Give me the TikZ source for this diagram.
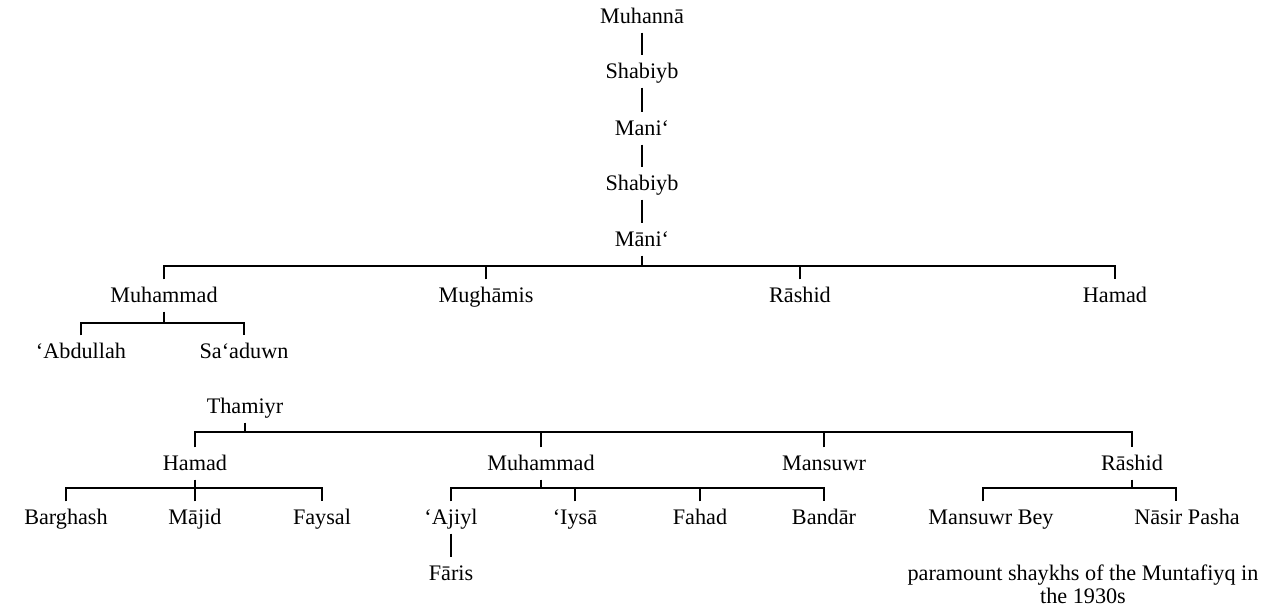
\documentclass[tikz,border=0pt]{standalone}
\usepackage{fontspec}
\setmainfont{Liberation Serif}
\begin{document}
\begin{tikzpicture}[x=1pt,y=-1pt,
  person/.style={font=\fontsize{22.2}{23}\selectfont, anchor=base, text height=15pt, text depth=2pt, inner xsep=2pt, inner ysep=7pt},
  every path/.style={line width=1.1pt, black}]
\useasboundingbox (0,0) rectangle (1284,614);
% chain
\node[person] (muhanna) at (642,23) {Muhannā};
\node[person] (shabiyb1) at (642,78) {Shabiyb};
\node[person] (mani1) at (642,135) {Mani‘};
\node[person] (shabiyb2) at (642,190) {Shabiyb};
\node[person] (mani2) at (642,246) {Māni‘};
\draw (muhanna.south) -- (shabiyb1.north);
\draw (shabiyb1.south) -- (mani1.north);
\draw (mani1.south) -- (shabiyb2.north);
\draw (shabiyb2.south) -- (mani2.north);
% row 2
\coordinate (bar1) at (0,266);
\node[person] (muh1) at (164,302) {Muhammad};
\node[person] (mugh) at (486,302) {Mughāmis};
\node[person] (rash1) at (800,302) {Rāshid};
\node[person] (ham1) at (1115,302) {Hamad};
\draw (mani2.south) -- (mani2.south |- bar1);
\draw (muh1.north) -- (muh1.north |- bar1) -- (ham1.north |- bar1) -- (ham1.north);
\draw (mugh.north) -- (mugh.north |- bar1);
\draw (rash1.north) -- (rash1.north |- bar1);
% Muhammad's sons
\coordinate (bar2) at (0,323);
\node[person] (abd) at (81,358) {‘Abdullah};
\node[person] (sad) at (244,358) {Sa‘aduwn};
\draw (muh1.south) -- (muh1.south |- bar2);
\draw (abd.north) -- (abd.north |- bar2) -- (sad.north |- bar2) -- (sad.north);
% Thamiyr
\node[person] (tham) at (245,413) {Thamiyr};
\coordinate (bar3) at (0,432);
\node[person] (ham2) at (195,470) {Hamad};
\node[person] (muh2) at (541,470) {Muhammad};
\node[person] (mans1) at (824,470) {Mansuwr};
\node[person] (rash2) at (1132,470) {Rāshid};
\draw (tham.south) -- (tham.south |- bar3);
\draw (ham2.north) -- (ham2.north |- bar3) -- (rash2.north |- bar3) -- (rash2.north);
\draw (muh2.north) -- (muh2.north |- bar3);
\draw (mans1.north) -- (mans1.north |- bar3);
% Hamad's sons
\coordinate (bar4) at (0,488);
\node[person] (barg) at (66,524) {Barghash};
\node[person] (majid) at (195,524) {Mājid};
\node[person] (faysal) at (322,524) {Faysal};
\draw (ham2.south) -- (ham2.south |- bar4);
\draw (barg.north) -- (barg.north |- bar4) -- (faysal.north |- bar4) -- (faysal.north);
\draw (majid.north) -- (majid.north |- bar4);
% Muhammad's sons
\node[person] (ajiyl) at (451,524) {‘Ajiyl};
\node[person] (iysa) at (575,524) {‘Iysā};
\node[person] (fahad) at (700,524) {Fahad};
\node[person] (bandar) at (824,524) {Bandār};
\draw (muh2.south) -- (muh2.south |- bar4);
\draw (ajiyl.north) -- (ajiyl.north |- bar4) -- (bandar.north |- bar4) -- (bandar.north);
\draw (iysa.north) -- (iysa.north |- bar4);
\draw (fahad.north) -- (fahad.north |- bar4);
\node[person] (faris) at (451,580) {Fāris};
\draw (ajiyl.south) -- (faris.north);
% Rashid's sons
\node[person] (mbey) at (991,524) {Mansuwr Bey};
\node[person] (nasir) at (1187,524) {Nāsir Pasha};
\coordinate (mbeytop) at ([xshift=-8pt]mbey.north);
\coordinate (nasirtop) at ([xshift=-11pt]nasir.north);
\draw (rash2.south) -- (rash2.south |- bar4);
\draw (mbeytop) -- (mbeytop |- bar4) -- (nasirtop |- bar4) -- (nasirtop);
% caption
\node[font=\fontsize{22.2}{23}\selectfont, align=center, anchor=north, inner sep=0pt] (cap) at (1083,564) {paramount shaykhs of the Muntafiyq in\\the 1930s};
\end{tikzpicture}
\end{document}
